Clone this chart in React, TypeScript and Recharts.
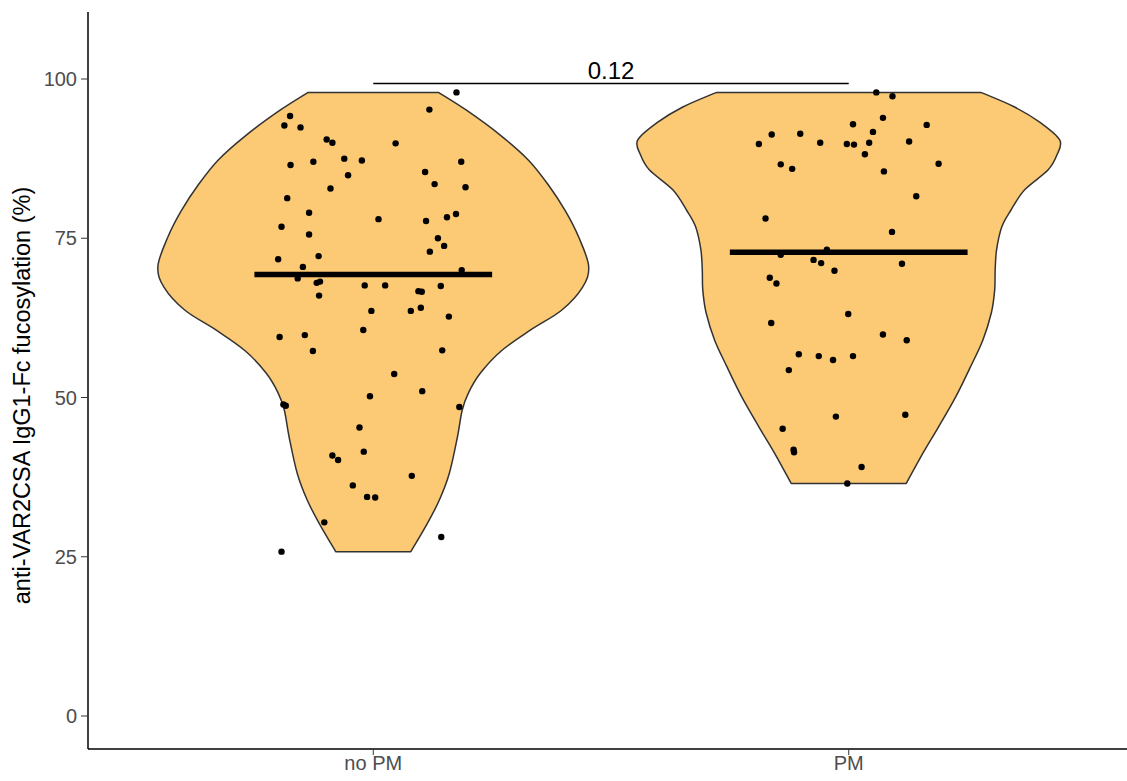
import React from 'react';
import { ScatterChart, Scatter, XAxis, YAxis } from 'recharts';

const groups = ['no PM', 'PM'];
const yTicks = [0, 25, 50, 75, 100];

// jittered observations (value, horizontal jitter in category units)
const noPmValues = [94.2, 92.7, 92.4, 90.5, 90.0, 86.5, 87.0, 87.5, 87.2, 84.9, 82.8, 81.3, 79.0, 78.0, 76.8, 75.6, 72.2, 71.7, 70.5, 68.7, 68.0, 68.2, 67.6, 66.0, 63.6, 97.9, 95.2, 89.9, 87.0, 85.4, 83.5, 83.0, 77.7, 78.3, 78.8, 75.0, 73.8, 72.9, 70.0, 67.6, 66.7, 66.6, 67.5, 63.6, 64.1, 62.7, 60.6, 59.5, 59.8, 57.3, 50.2, 48.9, 48.7, 45.3, 41.5, 40.9, 40.2, 36.2, 34.4, 34.3, 30.4, 25.8, 57.4, 53.7, 51.0, 48.5, 37.7, 28.1];
const noPmJitter = [-0.175, -0.187, -0.153, -0.098, -0.086, -0.174, -0.126, -0.061, -0.024, -0.053, -0.09, -0.181, -0.135, 0.011, -0.193, -0.135, -0.115, -0.2, -0.148, -0.159, -0.119, -0.112, -0.018, -0.114, -0.004, 0.175, 0.118, 0.047, 0.185, 0.109, 0.129, 0.194, 0.111, 0.155, 0.174, 0.136, 0.149, 0.119, 0.186, 0.025, 0.095, 0.102, 0.142, 0.079, 0.1, 0.159, -0.021, -0.197, -0.144, -0.127, -0.007, -0.189, -0.184, -0.029, -0.02, -0.086, -0.074, -0.043, -0.013, 0.004, -0.103, -0.193, 0.145, 0.044, 0.103, 0.181, 0.081, 0.143];

const pmValues = [89.8, 91.3, 91.4, 90.0, 86.6, 85.9, 78.1, 72.4, 73.2, 71.6, 71.1, 69.9, 68.8, 67.9, 97.9, 97.3, 93.9, 92.9, 92.8, 91.7, 89.8, 89.7, 90.0, 90.2, 88.2, 86.7, 85.5, 81.6, 76.0, 71.0, 61.7, 56.8, 56.5, 55.9, 54.3, 47.0, 45.1, 41.8, 41.4, 63.1, 59.9, 59.0, 56.5, 47.3, 39.1, 36.5];
const pmJitter = [-0.189, -0.162, -0.102, -0.06, -0.143, -0.119, -0.175, -0.143, -0.046, -0.074, -0.058, -0.03, -0.166, -0.152, 0.058, 0.092, 0.072, 0.009, 0.164, 0.051, -0.004, 0.011, 0.043, 0.127, 0.034, 0.189, 0.074, 0.142, 0.091, 0.112, -0.163, -0.105, -0.063, -0.033, -0.126, -0.027, -0.139, -0.116, -0.115, -0.001, 0.072, 0.122, 0.009, 0.119, 0.027, -0.003];

// violin outlines: value levels (bottom -> top) and half widths in category units
const noPmViolinY = [25.8, 30.0, 33.9, 38.1, 43.8, 48.0, 50.7, 53.8, 57.3, 60.6, 63.7, 67.3, 70.6, 75.2, 79.3, 83.4, 87.3, 91.2, 95.1, 97.9];
const noPmViolinHalf = [0.079, 0.112, 0.139, 0.16, 0.177, 0.187, 0.2, 0.225, 0.269, 0.331, 0.396, 0.44, 0.453, 0.432, 0.404, 0.368, 0.326, 0.267, 0.196, 0.137];
const pmViolinY = [36.5, 41.0, 45.4, 50.1, 54.8, 59.0, 63.3, 66.9, 70.0, 73.2, 76.8, 79.4, 82.6, 85.7, 88.1, 90.4, 93.1, 95.6, 97.9];
const pmViolinHalf = [0.121, 0.154, 0.189, 0.225, 0.256, 0.282, 0.3, 0.307, 0.308, 0.311, 0.322, 0.341, 0.37, 0.419, 0.438, 0.444, 0.404, 0.349, 0.278];

const medians = [69.3, 72.8];
const pValue = '0.12';
const bracketY = 99.3;

const toPoints = (center: number, values: number[], jitter: number[]) =>
  values.map((v, i) => ({ x: center + jitter[i], y: v }));

const toOutline = (center: number, ys: number[], half: number[]) => {
  const right = ys.map((y, i) => ({ x: center + half[i], y }));
  const left = ys.map((y, i) => ({ x: center - half[i], y })).reverse();
  return [...right, ...left];
};

const smooth = (pts: { x: number; y: number }[]) => {
  let d = '';
  for (let i = 0; i < pts.length - 1; i++) {
    const p0 = pts[i - 1] || pts[i];
    const p1 = pts[i];
    const p2 = pts[i + 1];
    const p3 = pts[i + 2] || p2;
    const c1x = p1.x + (p2.x - p0.x) / 6;
    const c1y = p1.y + (p2.y - p0.y) / 6;
    const c2x = p2.x - (p3.x - p1.x) / 6;
    const c2y = p2.y - (p3.y - p1.y) / 6;
    d += ` C ${c1x} ${c1y} ${c2x} ${c2y} ${p2.x} ${p2.y}`;
  }
  return d;
};

const ViolinPath = (props: any) => {
  const { points, area, edge } = props;
  if (!points || points.length < 4) return null;
  const n = points.length / 2;
  const right = points.slice(0, n);
  const left = points.slice(n);
  const d = `M ${right[0].x} ${right[0].y}` + smooth(right) + ` L ${left[0].x} ${left[0].y}` + smooth(left) + ' Z';
  return <path d={d} fill={area} stroke={edge} strokeWidth={1.5} strokeLinejoin="round" />;
};

const NoDot = () => <g />;
const Dot = (p: any) => <circle cx={p.cx} cy={p.cy} r={3.2} fill="#000" />;
const PLabel = (p: any) => (
  <text x={p.cx} y={p.cy - 4} textAnchor="middle" fontSize={24} fill="#000" fontFamily="Liberation Sans, Arial, sans-serif">
    {pValue}
  </text>
);

const YTitle = (props: any) => {
  const { x, y, height } = props.viewBox;
  const cx = x + 22;
  const cy = y + height / 2 + 15;
  return (
    <text x={cx} y={cy} transform={`rotate(-90, ${cx}, ${cy})`} textAnchor="middle" dominantBaseline="central" fontSize={23.5} fill="#000" fontFamily="Liberation Sans, Arial, sans-serif">
      anti-VAR2CSA IgG1-Fc fucosylation (%)
    </text>
  );
};

export default function App() {
  const tickStyle = { fontSize: 20, fill: '#4D4D4D', fontFamily: 'Liberation Sans, Arial, sans-serif' };
  return (
    <div style={{ position: 'absolute', left: 0, top: 0, width: 1127, height: 781, overflow: 'hidden', background: '#fff' }}>
      <ScatterChart width={1134} height={781} margin={{ top: 12, right: 0, bottom: 0, left: 0 }}>
        <XAxis
          type="number"
          dataKey="x"
          domain={[0.4, 2.6]}
          ticks={[1, 2]}
          allowDataOverflow
          tickFormatter={(v: number) => groups[v - 1]}
          height={32}
          tick={tickStyle}
          axisLine={{ stroke: '#000', strokeWidth: 1.5 }}
          tickLine={{ stroke: '#333' }}
          tickSize={6}
          tickMargin={1}
        />
        <YAxis
          type="number"
          dataKey="y"
          domain={[-5.18, 110.52]}
          ticks={yTicks}
          allowDataOverflow
          width={88}
          tick={tickStyle}
          axisLine={{ stroke: '#000', strokeWidth: 1.5 }}
          tickLine={{ stroke: '#333' }}
          tickSize={7}
          tickMargin={4}
          label={<YTitle />}
        />
        <Scatter data={toOutline(1, noPmViolinY, noPmViolinHalf)} line={<ViolinPath area="#FCC975" edge="#333333" />} shape={NoDot} isAnimationActive={false} />
        <Scatter data={toOutline(2, pmViolinY, pmViolinHalf)} line={<ViolinPath area="#FCC975" edge="#333333" />} shape={NoDot} isAnimationActive={false} />
        <Scatter data={toPoints(1, noPmValues, noPmJitter)} shape={Dot} isAnimationActive={false} />
        <Scatter data={toPoints(2, pmValues, pmJitter)} shape={Dot} isAnimationActive={false} />
        {medians.map((m, i) => (
          <Scatter
            key={i}
            data={[{ x: i + 1 - 0.25, y: m }, { x: i + 1 + 0.25, y: m }]}
            line={{ stroke: '#000', strokeWidth: 5.5 }}
            shape={NoDot}
            isAnimationActive={false}
          />
        ))}
        <Scatter data={[{ x: 1, y: bracketY }, { x: 2, y: bracketY }]} line={{ stroke: '#000', strokeWidth: 1.5 }} shape={NoDot} isAnimationActive={false} />
        <Scatter data={[{ x: 1.5, y: bracketY }]} shape={PLabel} isAnimationActive={false} />
      </ScatterChart>
    </div>
  );
}
